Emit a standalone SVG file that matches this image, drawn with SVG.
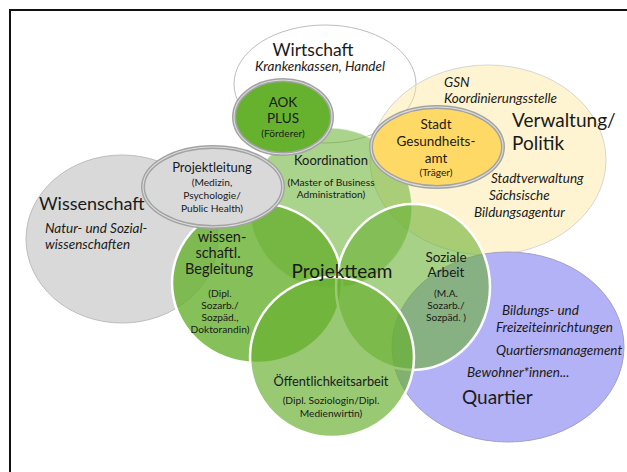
<svg xmlns="http://www.w3.org/2000/svg" width="627" height="472" viewBox="0 0 627 472">
  <style>
    text { font-family: Lato, "Open Sans", "Liberation Sans", sans-serif; fill: #1a1a1a; }
    .c { text-anchor: middle; }
    .it { font-style: italic; }
    .big { font-size: 19px; }
    .mid { font-size: 13px; }
    .sm { font-size: 10.2px; }
    .lab { font-size: 13.5px; }
    .ring { fill: none; stroke: #a3a3a3; stroke-width: 4; }
    .ring-in { fill: none; stroke: #dcdcdc; stroke-width: 1.1; }
    .team { fill: #68b030; stroke: #ffffff; stroke-width: 2.5; }
  </style>

  <!-- frame -->
  <path d="M10 472 V10 H627" fill="none" stroke="#111" stroke-width="2"/>

  <!-- outer spheres -->
  <g id="wirtschaft">
    <ellipse cx="325" cy="84" rx="91" ry="59" fill="#ffffff" stroke="#bdbdbd" stroke-width="1"/>
    <text class="c" x="313" y="56" style="font-size:17.5px">Wirtschaft</text>
    <text class="c it lab" x="320" y="71">Krankenkassen, Handel</text>
  </g>

  <g id="verwaltung">
    <ellipse cx="488" cy="160" rx="118" ry="95" fill="#ffe699" fill-opacity="0.45" stroke="#d6d6d6" stroke-width="1"/>
    <text class="it lab" x="444" y="87">GSN</text>
    <text class="it lab" x="444" y="103">Koordinierungsstelle</text>
    <text class="big" x="512" y="127">Verwaltung/</text>
    <text class="big" x="512" y="150">Politik</text>
    <text class="it lab" x="491" y="183">Stadtverwaltung</text>
    <text class="it lab" x="489" y="200">Sächsische</text>
    <text class="it lab" x="474" y="217">Bildungsagentur</text>
  </g>

  <g id="wissenschaft">
    <ellipse cx="122" cy="239" rx="96" ry="84" fill="#d9d9d9" stroke="#bdbdbd" stroke-width="1"/>
    <text x="39" y="210" style="font-size:18px">Wissenschaft</text>
    <text class="it lab" x="45" y="233">Natur- und Sozial-</text>
    <text class="it lab" x="45" y="249">wissenschaften</text>
  </g>

  <g id="quartier">
    <ellipse cx="508" cy="347" rx="116" ry="95" fill="#b4b2f6" stroke="#a09fc4" stroke-width="1"/>
    <text class="it lab" x="502" y="315">Bildungs- und</text>
    <text class="it lab" x="496" y="332">Freizeiteinrichtungen</text>
    <text class="it lab" x="496" y="355">Quartiersmanagement</text>
    <text class="it lab" x="467" y="377">Bewohner*innen...</text>
    <text class="big" x="462" y="404">Quartier</text>
  </g>

  <!-- project team circles -->
  <g id="koordination">
    <ellipse cx="331" cy="208" rx="81" ry="80" fill="#68b030" fill-opacity="0.56" stroke="#ffffff" stroke-opacity="0.5" stroke-width="1.5"/>
    <text class="c mid" x="331" y="165">Koordination</text>
    <text class="c sm" x="331" y="186">(Master of Business</text>
    <text class="c sm" x="331" y="198">Administration)</text>
  </g>

  <g id="begleitung">
    <ellipse class="team" cx="257" cy="283" rx="85" ry="80" fill-opacity="0.8"/>
    <text class="c" x="222" y="242" style="font-size:14.5px">wissen-</text>
    <text class="c" x="218" y="258" style="font-size:14.5px">schaftl.</text>
    <text class="c" x="219" y="274" style="font-size:14.5px">Begleitung</text>
    <text class="c sm" x="220" y="297">(Dipl.</text>
    <text class="c sm" x="220" y="309">Sozarb./</text>
    <text class="c sm" x="220" y="321">Sozpäd.,</text>
    <text class="c sm" x="220" y="333">Doktorandin)</text>
  </g>

  <g id="soziale-arbeit">
    <ellipse class="team" cx="413" cy="287" rx="77" ry="83" fill-opacity="0.58"/>
    <text class="c" x="446" y="262" style="font-size:13.5px">Soziale</text>
    <text class="c" x="446" y="277" style="font-size:13.5px">Arbeit</text>
    <text class="c sm" x="446" y="297">(M.A.</text>
    <text class="c sm" x="446" y="309">Sozarb./</text>
    <text class="c sm" x="446" y="321">Sozpäd. )</text>
  </g>

  <g id="oeffentlichkeitsarbeit">
    <ellipse class="team" cx="332" cy="357" rx="82" ry="80" fill-opacity="0.68"/>
    <text class="c" x="331" y="386" style="font-size:12.8px">Öffentlichkeitsarbeit</text>
    <text class="c sm" x="331" y="404">(Dipl. Soziologin/Dipl.</text>
    <text class="c sm" x="331" y="417">Medienwirtin)</text>
  </g>

  <g id="projektteam">
    <text class="c" x="342" y="278" style="font-size:19px">Projektteam</text>
  </g>

  <!-- key partners -->
  <g id="aok-plus">
    <ellipse cx="283" cy="117" rx="49" ry="37" fill="#66b22e"/>
    <ellipse class="ring" cx="283" cy="117" rx="49" ry="37"/>
    <ellipse class="ring-in" cx="283" cy="117" rx="49" ry="37"/>
    <text class="c" x="283" y="107" style="font-size:13.5px">AOK</text>
    <text class="c" x="283" y="123" style="font-size:13.5px">PLUS</text>
    <text class="c sm" x="283" y="137">(Förderer)</text>
  </g>

  <g id="gesundheitsamt">
    <ellipse cx="437" cy="147" rx="66" ry="40" fill="#ffd966"/>
    <ellipse class="ring" cx="437" cy="147" rx="66" ry="40"/>
    <ellipse class="ring-in" cx="437" cy="147" rx="66" ry="40"/>
    <text class="c" x="436" y="129" style="font-size:13.5px">Stadt</text>
    <text class="c" x="436" y="146" style="font-size:13.5px">Gesundheits-</text>
    <text class="c" x="436" y="163" style="font-size:13.5px">amt</text>
    <text class="c sm" x="436" y="176">(Träger)</text>
  </g>

  <g id="projektleitung">
    <ellipse cx="213" cy="187" rx="70" ry="40" fill="#d9d9d9"/>
    <ellipse class="ring" cx="213" cy="187" rx="70" ry="40"/>
    <ellipse class="ring-in" cx="213" cy="187" rx="70" ry="40"/>
    <text class="c mid" x="212" y="172">Projektleitung</text>
    <text class="c sm" x="212" y="186">(Medizin,</text>
    <text class="c sm" x="212" y="199">Psychologie/</text>
    <text class="c sm" x="212" y="212">Public Health)</text>
  </g>
</svg>
